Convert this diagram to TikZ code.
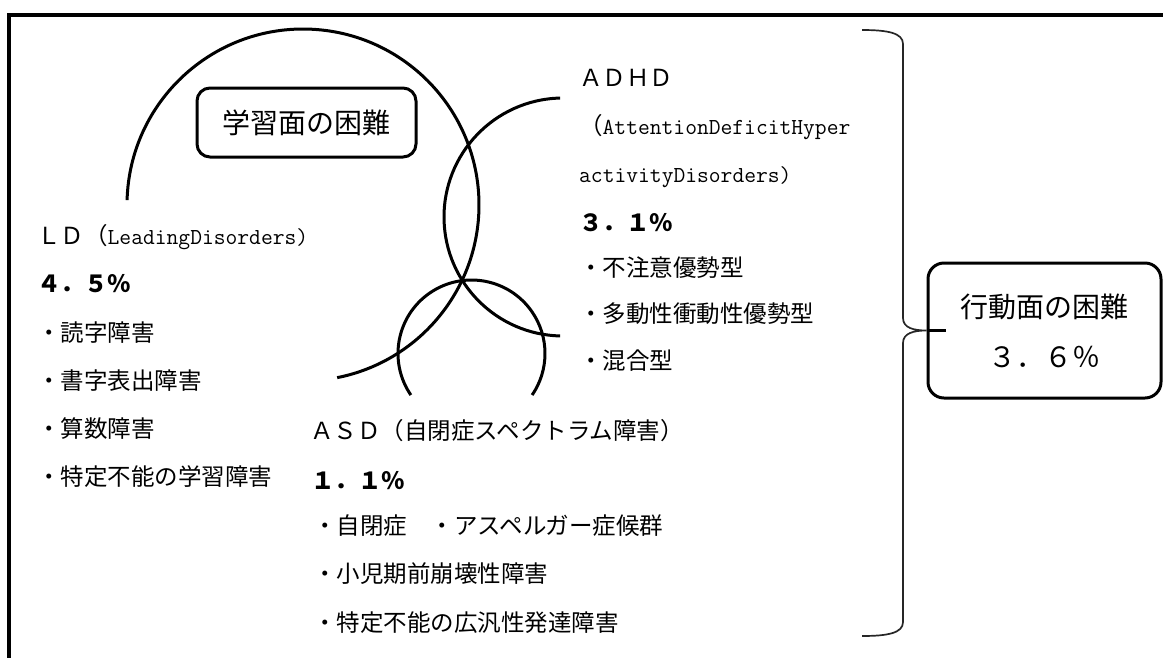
\documentclass[tikz,border=0pt]{standalone}
\usepackage{fontspec}
\newfontfamily\jp{Noto Sans CJK JP}
\newcommand\latmono[1]{{\ttfamily\fontsize{22.9pt}{28pt}\selectfont #1}}
\begin{document}
\begin{tikzpicture}[x=1pt,y=-1pt,
  body/.style={anchor=base west, inner sep=0pt, font=\jp\fontsize{23.5pt}{28pt}\selectfont},
  pct/.style={body, font=\jp\bfseries\fontsize{23.5pt}{28pt}\selectfont},
  box/.style={draw, fill=white, line width=3pt, inner sep=0pt, align=center},
  circ/.style={line width=3pt},
  frame/.style={line width=3.2pt},
  braceline/.style={line width=1.7pt, black!85}]
\useasboundingbox (0,0) rectangle (1163,657);
% outer frame
\draw[frame] (9,660) -- (9,15) -- (1170,15);
% circles
\draw[circ] (303,205) ++(181.6:176) arc[start angle=181.6, end angle=438.8, radius=176];
\draw[circ] (563,217) ++(268.6:119) arc[start angle=268.6, end angle=91.4, radius=119];
\draw[circ] (471.5,353.5) ++(145.6:73.5) arc[start angle=145.6, end angle=394.4, radius=73.5];
% boxes
\node[box, rounded corners=13pt, minimum width=219pt, minimum height=69pt,
  font=\jp\fontsize{28pt}{34pt}\selectfont] (learn) at (306.5,122.5) {学習面の困難};
\node[box, rounded corners=16pt, minimum width=233pt, minimum height=135pt,
  font=\jp\fontsize{28pt}{50pt}\selectfont] (behav) at (1044.5,330.5) {行動面の困難\\３．６％};
% brace
\coordinate (btop) at (862,30);
\coordinate (bbot) at (862,636);
\draw[braceline] (btop) .. controls (888,30) and (903,33) .. (903,44) -- (903,318)
  .. controls (903,328) and (914,330.5) .. (behav.west)
  .. controls (914,330.5) and (903,333) .. (903,343) -- (903,622)
  .. controls (903,633) and (888,636) .. (bbot);
\draw[line width=2.5pt] (behav.west) -- ++(19,0) coordinate (stub);
% LD block
\node[body] (ld1) at (37,244) {ＬＤ（\latmono{LeadingDisorders)}};
\node[pct]  (ld2) at (37,292) {４．５％};
\node[body] (ld3) at (37,341) {・読字障害};
\node[body] (ld4) at (37,389) {・書字表出障害};
\node[body] (ld5) at (37,437) {・算数障害};
\node[body] (ld6) at (37,485) {・特定不能の学習障害};
% ADHD block
\node[body] (ad1) at (579,86) {ＡＤＨＤ};
\node[body] (ad2) at (579,134) {（\latmono{AttentionDeficitHyper}};
\node[body] (ad3) at (579,182) {\latmono{activityDisorders)}};
\node[pct]  (ad4) at (579,231) {３．１％};
\node[body] (ad5) at (579,276) {・不注意優勢型};
\node[body] (ad6) at (579,322) {・多動性衝動性優勢型};
\node[body] (ad7) at (579,369) {・混合型};
% ASD block
\node[body] (as1) at (310,439) {ＡＳＤ（自閉症スペクトラム障害）};
\node[pct]  (as2) at (311,489) {１．１％};
\node[body] (as3) at (313,534) {・自閉症　・アスペルガー症候群};
\node[body] (as4) at (313,582) {・小児期前崩壊性障害};
\node[body] (as5) at (313,631) {・特定不能の広汎性発達障害};
\end{tikzpicture}
\end{document}
